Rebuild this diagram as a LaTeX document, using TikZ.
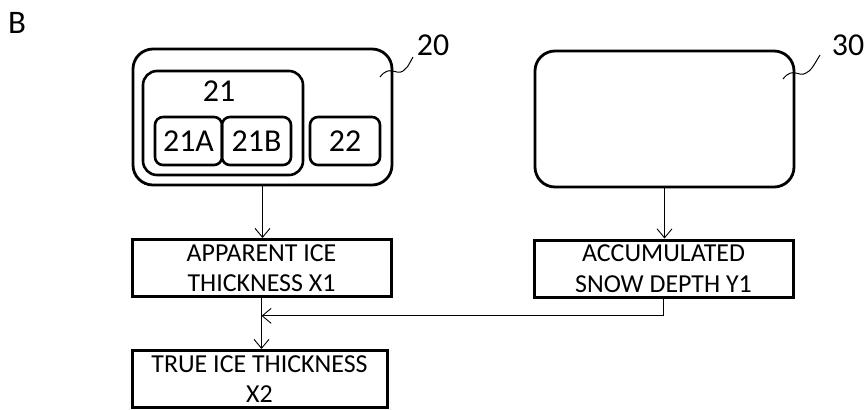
\documentclass[tikz,border=0pt]{standalone}
\usepackage{fontspec}
\setmainfont{Carlito}
\usetikzlibrary{arrows.meta,calc,positioning}
\tikzset{
  unidad/.style={draw,line width=2.8bp,rounded corners=20bp,minimum width=259bp,minimum height=136bp,inner sep=0pt},
  grupo/.style={draw,line width=2.6bp,rounded corners=14bp,minimum width=160bp,minimum height=104bp,inner sep=0pt},
  sub/.style={draw,line width=2.6bp,rounded corners=8bp,minimum height=48bp,inner sep=0pt,font=\fontsize{32}{36}\selectfont},
  dato/.style={draw,line width=3bp,minimum width=259bp,minimum height=57bp,inner sep=0pt,align=center,font=\fontsize{26}{30.5}\selectfont},
  flecha/.style={-{Straight Barb[length=9bp,width=15bp]},line width=0.9bp},
  ref/.style={font=\fontsize{32}{36}\selectfont,inner sep=0pt},
  letra/.style={font=\fontsize{33}{38}\selectfont,inner sep=0pt},
  guia/.style={line width=1bp}
}

\begin{document}
\begin{tikzpicture}[x=1bp,y=-1bp]
\useasboundingbox (0,0) rectangle (865,409);
\node[letra] (B) at (17,23) {B};
% unidades
\node[unidad] (U20) at (262.5,117) {};
\node[grupo] (U21) at (223,123) {};
\node[ref] (t21) at (219,91) {21};
\node[sub,minimum width=67bp] (U21A) at (188.5,141) {21A};
\node[sub,minimum width=69bp] (U21B) at (256.5,141) {21B};
\node[sub,minimum width=70bp] (U22) at (345,141) {22};
\node[unidad] (U30) at (664.5,119) {};
\node[ref] (lab20) at (433,45) {20};
\node[ref] (lab30) at (848,45) {30};
% datos
\node[dato] (X1) at (261.5,268) {APPARENT ICE\\THICKNESS X1};
\node[dato] (Y1) at (663.5,268.5) {ACCUMULATED\\SNOW DEPTH Y1};
\node[dato,minimum width=255bp] (X2) at (259.5,379) {TRUE ICE THICKNESS\\X2};
\coordinate (junta) at ($(X1.south)!0.35!(X1.south |- X2.north)$);
\coordinate (l20) at (380,77);
\coordinate (l30) at (783,79);
% flechas
\draw[flecha] (U20.south) -- (U20.south |- X1.north);
\draw[flecha] (U30.south) -- (U30.south |- Y1.north);
\draw[flecha] (X1.south) -- (X1.south |- X2.north);
\draw[flecha] (Y1.south) -- (Y1.south |- junta) -- (junta);
% guias
\draw[guia] (l20) .. controls (390,64) and (396,76) .. (403,71) .. controls (407,68) .. (413,57);
\draw[guia] (l30) .. controls (793,66) and (799,78) .. (806,73) .. controls (811,70) .. (820,55);
\end{tikzpicture}
\end{document}
